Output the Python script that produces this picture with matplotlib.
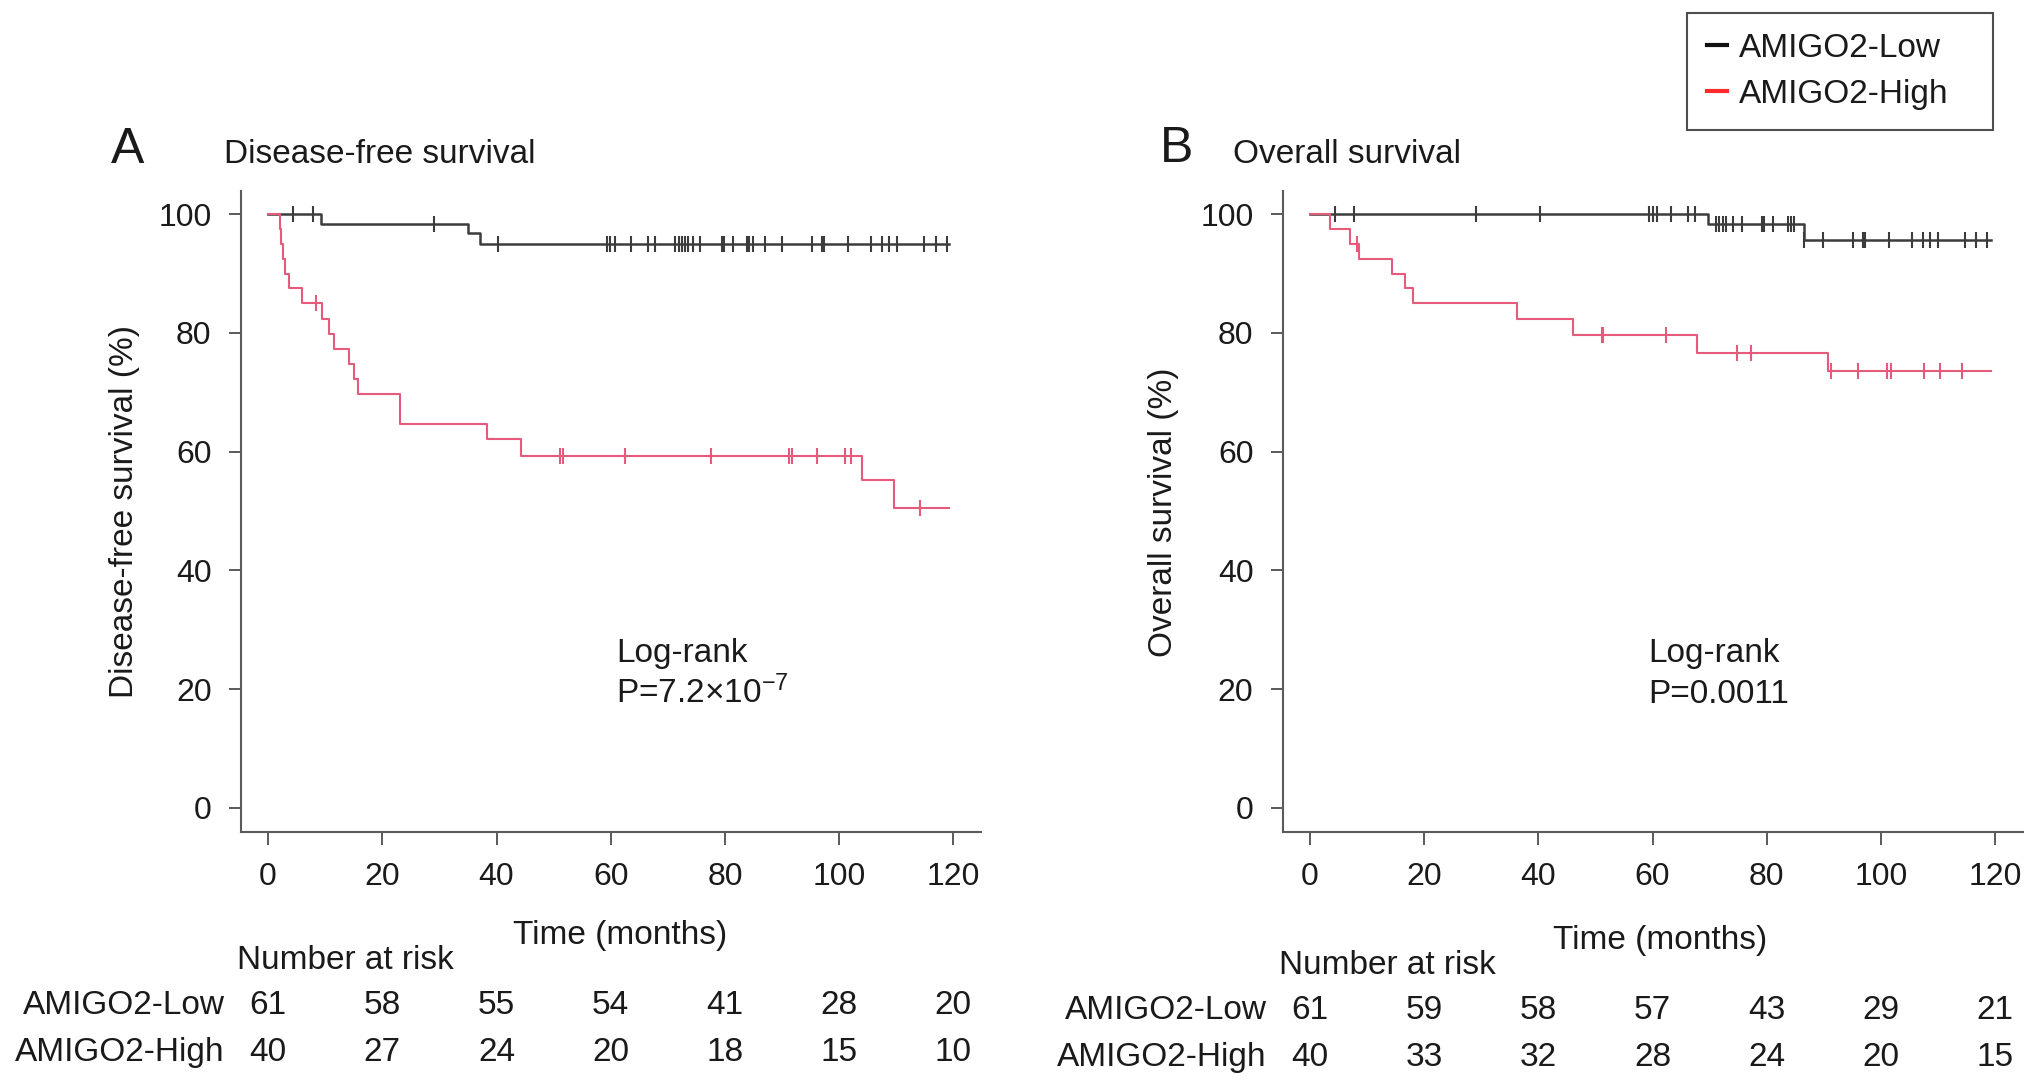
import numpy as np
import matplotlib
matplotlib.use("Agg")
import matplotlib.pyplot as plt
from matplotlib.lines import Line2D
from matplotlib.transforms import blended_transform_factory

plt.rcParams['font.family'] = ['Liberation Sans', 'DejaVu Sans']
plt.rcParams['mathtext.fontset'] = 'custom'
plt.rcParams['mathtext.rm'] = 'Liberation Sans'
plt.rcParams['mathtext.default'] = 'regular'

# --- data ---
risk_times = [0, 20, 40, 60, 80, 100, 120]
t_end = 119.2

# A: disease-free survival
dfs_low_t = [0, 9.2, 35.0, 37.1]
dfs_low_s = [100, 98.4, 96.8, 95.0]
dfs_low_cens = [4.4, 7.8, 29.1, 40.3, 59.4, 59.9, 60.8, 63.5, 66.5, 67.8, 71.3, 71.9,
                72.5, 73.1, 73.5, 74.5, 75.7, 79.5, 79.9, 81.4, 83.9, 84.3, 84.9, 87.1,
                90.0, 95.2, 97.0, 97.4, 101.5, 105.6, 107.5, 108.7, 110.1, 114.8, 116.9, 118.9]
dfs_high_t = [0, 2.0, 2.3, 2.6, 2.9, 3.7, 5.9, 9.5, 10.6, 11.6, 14.1, 15.0, 15.8, 23.1,
              38.3, 44.3, 104.0, 109.6]
dfs_high_s = [100, 97.5, 95.0, 92.5, 90.0, 87.5, 85.0, 82.4, 79.9, 77.3, 74.8, 72.2, 69.7,
              64.6, 62.2, 59.3, 55.2, 50.5]
dfs_high_cens = [8.4, 51.2, 51.7, 62.5, 77.6, 91.3, 91.7, 96.1, 101.1, 102.0, 114.2]
dfs_risk_low = [61, 58, 55, 54, 41, 28, 20]
dfs_risk_high = [40, 27, 24, 20, 18, 15, 10]

# B: overall survival
os_low_t = [0, 69.7, 86.5]
os_low_s = [100, 98.4, 95.6]
os_low_cens = [4.4, 7.7, 29.1, 40.3, 59.4, 60.0, 60.7, 63.3, 66.2, 67.4, 71.1, 71.7, 72.3,
               72.8, 74.1, 75.6, 79.1, 79.5, 81.1, 83.7, 84.3, 84.7, 86.6, 89.9, 95.1, 96.8,
               97.2, 101.4, 105.5, 107.4, 108.5, 110.0, 114.7, 116.7, 118.6]
os_high_t = [0, 3.5, 7.0, 8.6, 14.4, 16.6, 18.1, 36.3, 46.1, 67.8, 90.7]
os_high_s = [100, 97.5, 95.0, 92.5, 90.0, 87.5, 85.0, 82.3, 79.7, 76.6, 73.6]
os_high_cens = [8.3, 51.1, 51.4, 62.3, 74.7, 77.3, 91.2, 96.0, 101.0, 101.7, 107.5, 110.3, 114.1]
os_risk_low = [61, 59, 58, 57, 43, 29, 21]
os_risk_high = [40, 33, 32, 28, 24, 20, 15]

group_names = ['AMIGO2-Low', 'AMIGO2-High']
col_low = '#3c3c3c'
col_high = '#e65a7c'
txt = '#1a1a1a'
axcol = '#5a5a5a'

W, H = 2031, 1085
fig = plt.figure(figsize=(W / 100, H / 100), dpi=100)


def fx(px):
    return px / W


def fy(py):
    return 1 - py / H


def km(ax, t, s, cens, color, lw):
    t = np.array(t)
    s = np.array(s)
    ax.step(np.append(t, t_end), np.append(s, s[-1]), where='post', color=color, lw=lw)
    c = np.array(cens)
    idx = np.searchsorted(t, c, side='right') - 1
    ax.plot(c, s[idx], ls='none', marker='|', ms=11, mew=1.5, color=color)


def panel(left, letter, title, ylab, low, high, risk_low, risk_high, ptext, info):
    ax = fig.add_axes([fx(left), fy(831.6), fx(740), 641.1 / H])
    km(ax, *low, col_low, 1.8)
    km(ax, *high, col_high, 1.5)
    ax.set_xlim(-4.8, 124.8)
    ax.set_ylim(-4, 104)
    ax.set_xticks(risk_times)
    ax.set_yticks([0, 20, 40, 60, 80, 100])
    for sp in ['top', 'right']:
        ax.spines[sp].set_visible(False)
    for sp in ['left', 'bottom']:
        ax.spines[sp].set_color(axcol)
        ax.spines[sp].set_linewidth(1.5)
    ax.tick_params(axis='both', direction='out', length=9, width=1.4, color=axcol,
                   labelsize=23, labelcolor=txt)
    ax.tick_params(axis='y', pad=12)
    ax.tick_params(axis='x', pad=13)

    tr = blended_transform_factory(ax.transData, fig.transFigure)
    fig.text(fx(info['letter_x']), fy(info['letter_y']), letter, fontsize=36, color=txt,
             va='baseline', ha='left')
    fig.text(fx(info['title_x']), fy(163), title, fontsize=24, color=txt,
             va='baseline', ha='left')
    fig.text(fx(info['ylab_x']), fy(512), ylab, fontsize=24, color=txt, rotation=90,
             va='center', ha='center')
    ax.text(info['lr_x'], fy(662), 'Log-rank', fontsize=24, color=txt, ha='left',
            va='baseline', transform=tr)
    ax.text(info['lr_x'], fy(702.6), ptext, fontsize=24, color=txt, ha='left',
            va='baseline', transform=tr)

    yb = info['base']
    fig.text(fx(info['time_x']), fy(yb), 'Time (months)', fontsize=24, color=txt,
             ha='center', va='baseline')
    fig.text(fx(left - 3.2), fy(yb + 25.5), 'Number at risk', fontsize=24, color=txt,
             ha='left', va='baseline')
    for row, (name, vals) in enumerate(zip(group_names, [risk_low, risk_high])):
        y = fy(yb + 70.5 + row * 46.5)
        fig.text(fx(left - 16), y, name, fontsize=24, color=txt, ha='right', va='baseline')
        for t, v in zip(risk_times, vals):
            ax.text(t, y, str(v), fontsize=24, color=txt, ha='center', va='baseline',
                    transform=tr)
    return ax


panel(240.7, 'A', 'Disease-free survival', 'Disease-free survival (%)',
      (dfs_low_t, dfs_low_s, dfs_low_cens), (dfs_high_t, dfs_high_s, dfs_high_cens),
      dfs_risk_low, dfs_risk_high, 'P=7.2×10$^{-7}$',
      dict(letter_x=110.6, letter_y=163, title_x=224, ylab_x=125, lr_x=61.0,
           time_x=619.7, base=943.6))
panel(1282.6, 'B', 'Overall survival', 'Overall survival (%)',
      (os_low_t, os_low_s, os_low_cens), (os_high_t, os_high_s, os_high_cens),
      os_risk_low, os_risk_high, 'P=0.0011',
      dict(letter_x=1159.4, letter_y=161.7, title_x=1233, ylab_x=1164, lr_x=59.2,
           time_x=1660, base=948.8))

handles = [Line2D([], [], color='#111111', lw=3),
           Line2D([], [], color='#ff2a2a', lw=3)]
leg = fig.legend(handles, group_names, loc='upper left',
                 bbox_to_anchor=(fx(1687), fy(126), fx(306), 113 / H), mode='expand',
                 borderaxespad=0, frameon=True, fancybox=False, edgecolor='#222222',
                 fontsize=24, handlelength=0.6, handletextpad=0.35, borderpad=0.6,
                 labelspacing=0.45, labelcolor=txt)
leg.get_frame().set_linewidth(1.5)

fig.savefig('out.png', dpi=100)
